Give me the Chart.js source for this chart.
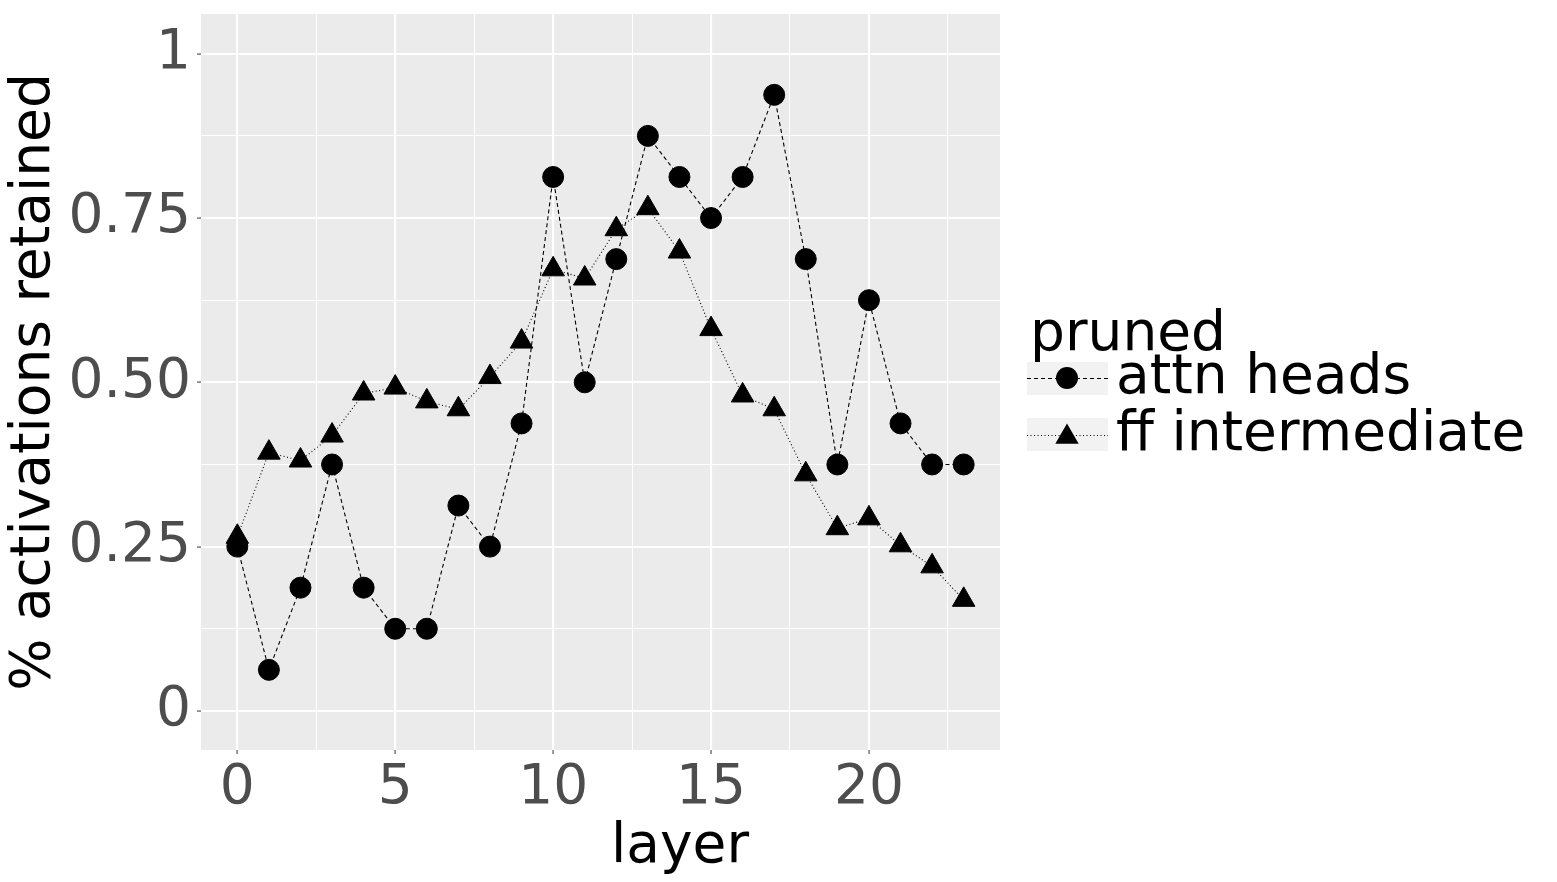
<!DOCTYPE html>
<html>
<head>
<meta charset="utf-8">
<script src="https://cdn.jsdelivr.net/npm/chart.js@4.4.1/dist/chart.umd.min.js"></script>
<style>
  html, body { margin: 0; padding: 0; background: #ffffff; }
  #wrap { width: 1557px; height: 882px; position: relative; }
</style>
</head>
<body>
<div id="wrap"><canvas id="c" width="1557" height="882"></canvas></div>
<script>
// ---- data ----
const layers = [0,1,2,3,4,5,6,7,8,9,10,11,12,13,14,15,16,17,18,19,20,21,22,23];
const attnHeads = [0.25,0.0625,0.1875,0.375,0.1875,0.125,0.125,0.3125,0.25,0.4375,0.8125,0.5,
                   0.6875,0.875,0.8125,0.75,0.8125,0.9375,0.6875,0.375,0.625,0.4375,0.375,0.375];
const ffIntermediate = [0.265,0.393,0.381,0.419,0.483,0.492,0.471,0.459,0.508,0.562,0.672,0.658,
                        0.733,0.765,0.699,0.581,0.480,0.459,0.360,0.278,0.293,0.252,0.220,0.169];
const seriesNames = ['attn heads', 'ff intermediate'];
const legendTitle = 'pruned';
const xTitle = 'layer';
const yTitle = '% activations retained';
const xTickValues = [0,5,10,15,20];
const xTickLabels = ['0','5','10','15','20'];
const yTickValues = [0,0.25,0.5,0.75,1];
const yTickLabels = ['0','0.25','0.50','0.75','1'];

const FONT = 'DejaVu Sans';
const PANEL_BG = '#EBEBEB';
const KEY_BG = '#F2F2F2';
const TICK_TXT = '#4D4D4D';
const ATTN_DASH = [4,3];
const FF_DASH = [1,2.5];

function withMinor(vals) {
  const out = [];
  for (let i = 0; i < vals.length; i++) {
    out.push(vals[i]);
    if (i < vals.length - 1) out.push((vals[i] + vals[i+1]) / 2);
  }
  out.push(vals[vals.length-1] + (vals[1]-vals[0]) / 2);
  return out;
}
function labelFor(v, vals, labels) {
  for (let i = 0; i < vals.length; i++) if (Math.abs(vals[i]-v) < 1e-9) return labels[i];
  return '';
}
function isMajor(v, vals) { return vals.some(t => Math.abs(t - v) < 1e-9); }

const xTicksAll = withMinor(xTickValues);
const yTicksAll = withMinor(yTickValues).filter(v => v <= 1.06);

const bgPlugin = {
  id: 'bg',
  beforeDraw(chart) {
    const {ctx, chartArea: a} = chart;
    ctx.save();
    ctx.fillStyle = '#ffffff';
    ctx.fillRect(0, 0, chart.width, chart.height);
    ctx.fillStyle = PANEL_BG;
    ctx.fillRect(a.left, a.top, a.right - a.left, a.bottom - a.top);
    ctx.restore();
  },
  afterDraw(chart) {
    const ctx = chart.ctx;
    ctx.save();
    // x axis title
    ctx.fillStyle = '#000';
    ctx.font = '55px "' + FONT + '"';
    ctx.textAlign = 'center';
    ctx.textBaseline = 'alphabetic';
    ctx.fillText(xTitle, 680, 862);
    // legend
    ctx.textAlign = 'left';
    ctx.fillText(legendTitle, 1030, 350);
    const keys = [
      {y: 378, box: 362, dash: ATTN_DASH, shape: 'circle', label: seriesNames[0], ty: 393},
      {y: 435, box: 418, dash: FF_DASH, shape: 'triangle', label: seriesNames[1], ty: 450}
    ];
    keys.forEach(k => {
      ctx.fillStyle = KEY_BG;
      ctx.fillRect(1027, k.box, 81, 33);
      ctx.strokeStyle = '#000';
      ctx.lineWidth = 1.1;
      ctx.setLineDash(k.dash);
      ctx.beginPath();
      ctx.moveTo(1027, k.y + 0.5);
      ctx.lineTo(1108, k.y + 0.5);
      ctx.stroke();
      ctx.setLineDash([]);
      ctx.fillStyle = '#000';
      ctx.beginPath();
      if (k.shape === 'circle') {
        ctx.arc(1067, k.y, 11, 0, Math.PI * 2);
      } else {
        const r = 13.5, cx = 1067, cy = k.y + 2;
        ctx.moveTo(cx, cy - r);
        ctx.lineTo(cx + r * Math.sin(2*Math.PI/3), cy + r/2);
        ctx.lineTo(cx - r * Math.sin(2*Math.PI/3), cy + r/2);
        ctx.closePath();
      }
      ctx.fill();
      ctx.fillStyle = '#000';
      ctx.font = '55px "' + FONT + '"';
      ctx.fillText(k.label, 1116, k.ty);
    });
    ctx.restore();
  }
};

const gridCommon = (vals) => ({
  color: '#ffffff',
  lineWidth: (c) => (c.tick && isMajor(c.tick.value, vals)) ? 2.1 : 1.05,
  drawTicks: true,
  tickLength: 4,
  tickWidth: 1,
  tickColor: (c) => (c.tick && isMajor(c.tick.value, vals)) ? '#333333' : 'rgba(0,0,0,0)'
});

new Chart(document.getElementById('c'), {
  type: 'line',
  data: {
    datasets: [
      {
        label: seriesNames[0],
        data: layers.map((x, i) => ({x: x, y: attnHeads[i]})),
        borderColor: '#000', backgroundColor: '#000',
        borderWidth: 1.1, borderDash: ATTN_DASH, tension: 0, fill: false,
        pointStyle: 'circle', pointRadius: 10.5, pointBorderWidth: 1,
        pointBackgroundColor: '#000', pointBorderColor: '#000'
      },
      {
        label: seriesNames[1],
        data: layers.map((x, i) => ({x: x, y: ffIntermediate[i]})),
        borderColor: '#000', backgroundColor: '#000',
        borderWidth: 1.1, borderDash: FF_DASH, tension: 0, fill: false,
        pointStyle: 'triangle', pointRadius: 13, pointBorderWidth: 1,
        pointBackgroundColor: '#000', pointBorderColor: '#000'
      }
    ]
  },
  options: {
    responsive: false,
    animation: false,
    devicePixelRatio: 1,
    layout: { padding: { left: 0, top: 12, right: 557, bottom: 0 } },
    plugins: { legend: { display: false }, tooltip: { enabled: false } },
    elements: { line: { borderCapStyle: 'butt' } },
    scales: {
      x: {
        type: 'linear', min: -1.15, max: 24.15,
        border: { display: false },
        grid: gridCommon(xTickValues),
        afterBuildTicks: (s) => { s.ticks = xTicksAll.map(v => ({value: v})); },
        afterFit: (s) => { s.height = 132; s.paddingLeft = 0; s.paddingRight = 0; },
        ticks: {
          autoSkip: false, maxRotation: 0, minRotation: 0, padding: 2,
          color: TICK_TXT, font: { family: FONT, size: 55 },
          callback: (v) => labelFor(v, xTickValues, xTickLabels)
        },
        title: { display: false }
      },
      y: {
        type: 'linear', min: -0.0595, max: 1.0605,
        border: { display: false },
        grid: gridCommon(yTickValues),
        afterBuildTicks: (s) => { s.ticks = yTicksAll.map(v => ({value: v})); },
        afterFit: (s) => { s.width = 201; s.paddingTop = 0; s.paddingBottom = 0; },
        ticks: {
          autoSkip: false, padding: 6,
          color: TICK_TXT, font: { family: FONT, size: 55 },
          callback: (v) => labelFor(v, yTickValues, yTickLabels)
        },
        title: {
          display: true, text: yTitle, color: '#000',
          font: { family: FONT, size: 55 }, padding: { top: 2, bottom: 0 }
        }
      }
    }
  },
  plugins: [bgPlugin]
});
</script>
</body>
</html>
